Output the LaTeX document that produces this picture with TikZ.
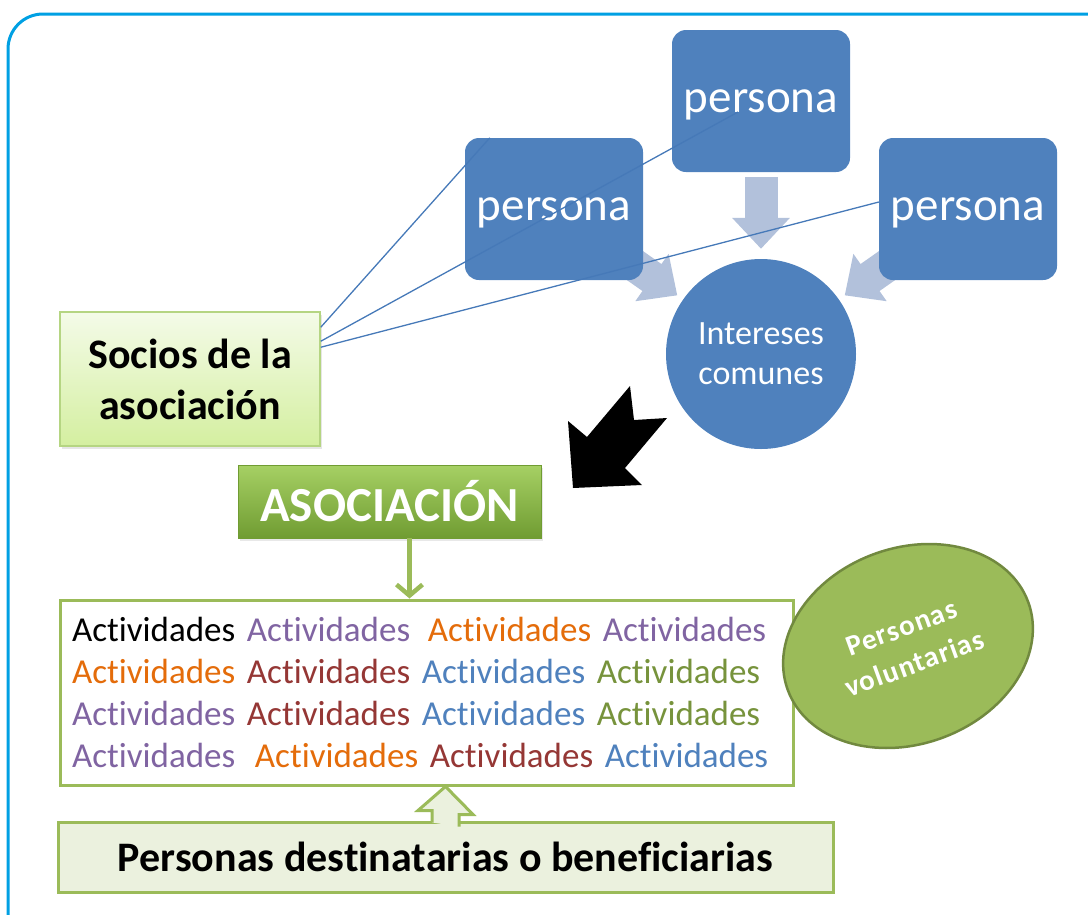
\documentclass[tikz,border=0pt]{standalone}
\usepackage{fontspec}
\setmainfont{Carlito}[Ligatures=NoCommon]
\usetikzlibrary{shapes.geometric, arrows.meta, calc, shadows, backgrounds}

\definecolor{marco}{RGB}{0,160,227}
\definecolor{azulper}{RGB}{79,129,189}
\definecolor{azulcl}{RGB}{178,193,219}
\definecolor{linea}{RGB}{70,121,184}
\definecolor{verde}{RGB}{155,187,89}
\definecolor{verdeosc}{RGB}{113,137,63}
\definecolor{verdecl}{RGB}{235,241,222}
\definecolor{sociotop}{RGB}{244,251,232}
\definecolor{sociobot}{RGB}{212,239,160}
\definecolor{sociobd}{RGB}{181,213,130}
\definecolor{asoctop}{RGB}{166,208,100}
\definecolor{asocbot}{RGB}{112,156,50}
\definecolor{morado}{RGB}{128,100,162}
\definecolor{naranja}{RGB}{228,108,10}
\definecolor{granate}{RGB}{149,55,53}
\definecolor{azultx}{RGB}{79,129,189}
\definecolor{verdetx}{RGB}{119,147,60}

\newcommand{\activ}[1]{\textcolor{#1}{Actividades}}

\tikzset{
	persona/.style={rectangle, rounded corners=14pt, fill=azulper, text=white, minimum width=178pt, minimum height=142pt, text depth=0pt, font=\fontsize{47}{56}\selectfont},
	flechacl/.style={azulcl, line width=33pt, -{Triangle[length=31pt, width=56pt]}},
	lineasocio/.style={linea, line width=1.3pt},
	cajaverde/.style={rectangle, draw=verde, line width=3pt},
	flechaver/.style={verde, line width=4.5pt, -{Straight Barb[length=11pt, width=26pt]}}
}

\begin{document}
\begin{tikzpicture}[x=1pt, y=-1pt]
	\useasboundingbox (0,0) rectangle (1088,914);
	\clip (0,0) rectangle (1088,914);
	\draw[marco, line width=3pt, rounded corners=35pt] (8,960) -- (8,14) -- (1130,14);

	\node[persona] (pl) at (554,209) {persona};
	\node[persona] (pt) at (761,101) {persona};
	\node[persona] (pr) at (968,209) {persona};
	\node[circle, fill=azulper, text=white, minimum size=190pt, align=center, font=\fontsize{34}{40}\selectfont] (circ) at (761,354) {Intereses\\comunes};

	\begin{pgfonlayer}{background}
		\draw[flechacl, shorten <=5pt, shorten >=10pt] (pt) -- (circ);
		\draw[flechacl, shorten <=-25pt, shorten >=7pt] (pl) -- (circ);
		\draw[flechacl, shorten <=-25pt, shorten >=7pt] (pr) -- (circ);
	\end{pgfonlayer}

	\node[rectangle, draw=sociobd, line width=1.5pt, top color=sociotop, bottom color=sociobot, minimum width=260pt, minimum height=134pt, align=center, font=\fontsize{42}{51}\selectfont\bfseries, drop shadow={opacity=0.2, shadow xshift=2pt, shadow yshift=-3pt}] (soc) at (190,379) {Socios de la\\asociación};

	\draw[lineasocio] ($(soc.north east)+(0,16)$) -- ($(pl.north west)+(25,0)$);
	\draw[lineasocio] ($(soc.north east)+(0,30)$) -- ($(pt.center)+(-23,11)$);
	\draw[lineasocio] ($(soc.north east)+(0,36)$) -- ($(pr.west)+(0,-7)$);

	\fill[black] (573,488) -- (642,485) -- (625,468) -- (667,418) -- (634,420) -- (630,386) -- (587,437) -- (568,421) -- cycle;

	\node[rectangle, draw=asocbot, line width=0.8pt, top color=asoctop, bottom color=asocbot, minimum width=303pt, minimum height=73pt, text=white, font=\fontsize{49}{56}\selectfont\bfseries, drop shadow={opacity=0.18, shadow xshift=2pt, shadow yshift=-3pt}] (asoc) at (389.5,501.5) {ASOCIACIÓN};

	\node[cajaverde, fill=white, text width=709pt, inner xsep=12pt, minimum height=185pt, align=left, font=\fontsize{35}{41.7}\selectfont] (act) at (426.5,692.5) {\activ{black} \activ{morado}\hspace{6pt} \activ{naranja} \activ{morado}\\
		\activ{naranja} \activ{granate} \activ{azultx} \activ{verdetx}\\
		\activ{morado} \activ{granate} \activ{azultx} \activ{verdetx}\\
		\activ{morado}\hspace{8pt} \activ{naranja} \activ{granate} \activ{azultx}};

	\coordinate (asocpie) at ($(asoc.south)+(20,0)$);
	\draw[flechaver] (asocpie) -- (asocpie |- act.north);

	\node[ellipse, fill=verde, draw=verdeosc, line width=2.5pt, minimum width=256pt, minimum height=196pt, rotate=20, text=white, align=center, font=\fontsize{29}{38}\selectfont\bfseries] (vol) at (908,646) {\addfontfeatures{LetterSpace=4}Personas\\\addfontfeatures{LetterSpace=4}voluntarias};

	\node[cajaverde, fill=verdecl, minimum width=775pt, minimum height=70pt, font=\fontsize{42}{48}\selectfont\bfseries] (benef) at (445.5,857) {Personas destinatarias o beneficiarias};

	\filldraw[fill=verdecl, draw=verde, line width=3pt] ($(benef.north)+(-13.5,2)$) -- ++(0,-12) -- ++(-14,0) -- (benef.north |- act.south) -- ++(27.5,28) -- ++(-14,0) -- ++(0,12);
\end{tikzpicture}
\end{document}
